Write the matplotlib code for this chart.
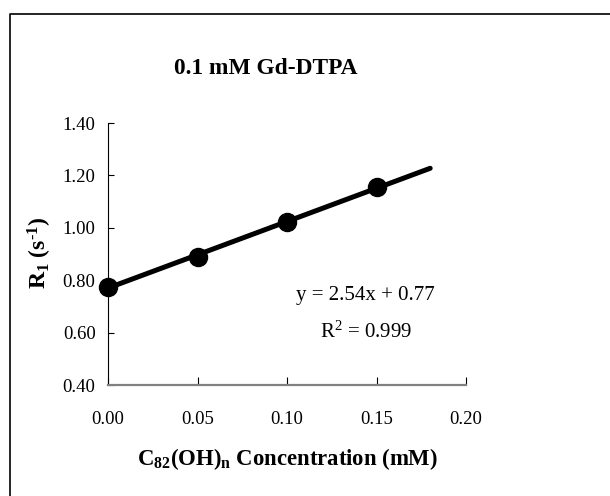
"""
Relaxation rate R1 vs C82(OH)n concentration at 0.1 mM Gd-DTPA.
"""
import numpy as np
import matplotlib as mpl
import matplotlib.pyplot as plt
from matplotlib.lines import Line2D

mpl.rcParams.update({
    "font.family": "serif",
    "font.serif": ["Liberation Serif", "DejaVu Serif"],
    "mathtext.fontset": "custom",
    "mathtext.rm": "Liberation Serif",
    "mathtext.it": "Liberation Serif:italic",
    "mathtext.bf": "Liberation Serif:bold",
    "xtick.direction": "in",
    "ytick.direction": "in",
})

# measured points
conc = [0.00, 0.05, 0.10, 0.15]
r1 = [0.775, 0.887, 1.024, 1.156]

# linear fit as printed on the chart
SLOPE, INTERCEPT = 2.54, 0.77
fit_x = [0.0, 0.18]

xticks = [0.00, 0.05, 0.10, 0.15, 0.20]
yticks = [0.40, 0.60, 0.80, 1.00, 1.20, 1.40]

W, H = 610, 496
fig = plt.figure(figsize=(W / 100, H / 100), dpi=100)
ax = fig.add_axes([108 / W, 1 - 385 / H, (466 - 108) / W, (385 - 123) / H])

fit_y = [SLOPE * x + INTERCEPT for x in fit_x]
ax.plot(fit_x, fit_y, color="k", lw=3.6, solid_capstyle="round", zorder=3)
ax.plot(conc, r1, "o", color="k", ms=13, zorder=4, clip_on=False)

ax.set_xlim(0.0, 0.20)
ax.set_ylim(0.40, 1.40)
ax.set_xticks(xticks)
ax.set_yticks(yticks)
ax.set_xticklabels([f"{v:.2f}" for v in xticks])
ax.set_yticklabels([f"{v:.2f}" for v in yticks])
ax.tick_params(axis="x", length=6, width=0.8, pad=19, labelsize=13.5)
ax.tick_params(axis="y", length=4, width=0.8, pad=9, labelsize=13.5)

for s in ("top", "right"):
    ax.spines[s].set_visible(False)
ax.spines["left"].set_linewidth(0.8)
ax.spines["bottom"].set_color("#808080")
ax.spines["bottom"].set_linewidth(1.6)

ax.text(0.72, 0.34, "y = 2.54x + 0.77", transform=ax.transAxes,
        ha="center", va="center", fontsize=15)
ax.text(0.72, 0.2, r"R$^{2}$ = 0.999", transform=ax.transAxes,
        ha="center", va="center", fontsize=15)

fig.text(266 / W, 1 - 69 / H, "0.1 mM Gd-DTPA", ha="center", va="center",
         fontsize=16.8, fontweight="bold")
fig.text(287 / W, 1 - 459 / H,
         r"$\mathbf{C_{82}(OH)_{n}\ Concentration\ (mM)}$",
         ha="center", va="center", fontsize=16.4)
fig.text(40 / W, 1 - 253 / H, "$\\mathbf{R_{1}\\ (s^{\u2010 1})}$",
         ha="center", va="center", rotation=90, fontsize=17)

# chart-area border (only left and top edges are visible)
fig.add_artist(Line2D([9.5 / W, 9.5 / W, 1.0], [0.0, 1 - 13.5 / H, 1 - 13.5 / H],
                      transform=fig.transFigure, color="k", lw=1.2))

fig.savefig("out.png", dpi=100)
